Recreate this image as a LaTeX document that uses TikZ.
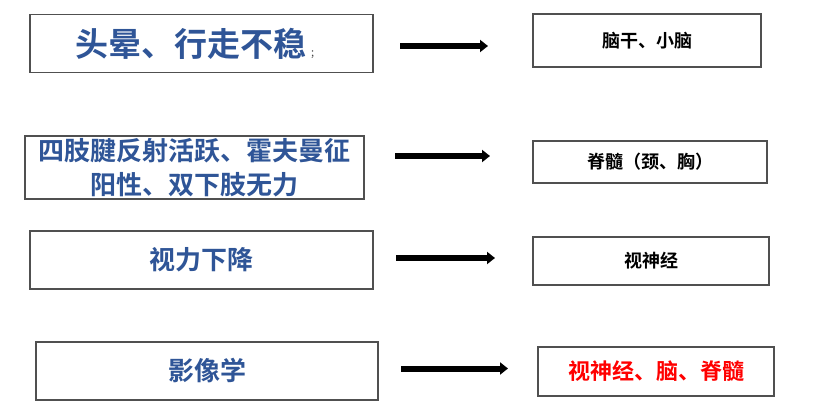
\documentclass[tikz,border=0pt]{standalone}
\usepackage{fontspec}
\setmainfont{Noto Sans CJK SC}[BoldFont={Noto Sans CJK SC Bold}]
\usetikzlibrary{arrows.meta}
\definecolor{boxblue}{HTML}{2F5597}
\definecolor{boxline}{HTML}{505050}
\tikzset{
  box/.style={draw=boxline, line width=1.4pt, fill=white, inner sep=0pt, align=center},
  lefttext/.style={text=boxblue, font=\bfseries\fontsize{26}{34}\selectfont},
  righttext/.style={text=black, font=\bfseries\fontsize{18}{22}\selectfont},
  bigarrow/.style={line width=6pt, -{Triangle[length=8pt,width=12pt]}}
}
\begin{document}
\begin{tikzpicture}[x=1pt,y=-1pt]
\useasboundingbox (0,0) rectangle (830,417);
% left boxes
\node[box, lefttext, font=\bfseries\fontsize{33}{36}\selectfont, minimum width=343pt, minimum height=58pt] (L1) at (201.5,43.5)
  {头晕、行走不稳\rlap{\hspace{5pt}\textcolor{darkgray}{\mdseries\fontsize{11}{11}\selectfont ;}}\hspace{22pt}};
\node[box, lefttext, minimum width=339pt, minimum height=63pt] (L2) at (194.5,167.5)
  {四肢腱反射活跃、霍夫曼征\\阳性、双下肢无力};
\node[box, lefttext, minimum width=343pt, minimum height=58pt] (L3) at (201.5,260) {视力下降};
\node[box, lefttext, minimum width=342pt, minimum height=58pt] (L4) at (207,371) {影像学};
% right boxes
\node[box, righttext, minimum width=228pt, minimum height=53pt] (R1) at (647,40.5) {脑干、小脑};
\node[box, righttext, minimum width=234pt, minimum height=42pt] (R2) at (650,162) {脊髓（颈、胸）};
\node[box, righttext, minimum width=236pt, minimum height=48pt] (R3) at (651,261) {视神经};
\node[box, righttext, text=red, font=\bfseries\fontsize{22}{26}\selectfont, minimum width=236pt, minimum height=49pt] (R4) at (656,371.5) {视神经、脑、脊髓};
% arrows
\coordinate (a1s) at (400,46);   \coordinate (a1e) at (488,46);
\coordinate (a2s) at (395,156);  \coordinate (a2e) at (490,156);
\coordinate (a3s) at (396,258);  \coordinate (a3e) at (495,258);
\coordinate (a4s) at (401,368.5);\coordinate (a4e) at (508,368.5);
\draw[bigarrow] (a1s) -- (a1e);
\draw[bigarrow] (a2s) -- (a2e);
\draw[bigarrow] (a3s) -- (a3e);
\draw[bigarrow] (a4s) -- (a4e);
\end{tikzpicture}
\end{document}
